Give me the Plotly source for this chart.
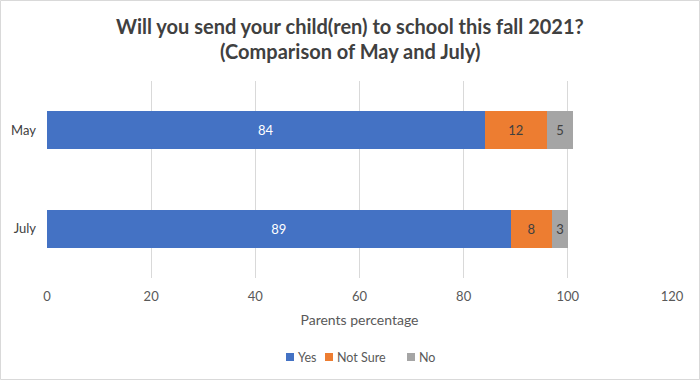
import plotly.graph_objects as go

categories = ["May", "July"]
yes_vals = [84, 89]
notsure_vals = [12, 8]
no_vals = [5, 3]
series_names = ["Yes", "Not Sure", "No"]
colors = ["#4472C4", "#ED7D31", "#A5A5A5"]
text_colors = ["#FFFFFF", "#404040", "#404040"]
x_ticks = [0, 20, 40, 60, 80, 100, 120]
title_lines = ["Will you send your child(ren) to school this fall 2021?", "(Comparison of May and July)"]

W, H = 700, 380
ML, MR, MT, MB = 47, 28, 81, 102
pw = W - ML - MR
ph = H - MT - MB
FONT = "Lato, Open Sans, sans-serif"

fig = go.Figure()
for name, vals, c, tc in zip(series_names, [yes_vals, notsure_vals, no_vals], colors, text_colors):
    fig.add_trace(go.Bar(
        y=categories, x=vals, name=name, orientation="h",
        marker=dict(color=c, line=dict(width=0)),
        text=[str(v) for v in vals], textposition="inside", insidetextanchor="middle",
        textfont=dict(color=tc, size=13, family=FONT),
        constraintext="none", showlegend=False,
    ))

fig.update_layout(
    width=W, height=H,
    barmode="stack", bargap=0.61,
    paper_bgcolor="white", plot_bgcolor="white",
    margin=dict(l=ML, r=MR, t=MT, b=MB, autoexpand=False),
    font=dict(family=FONT, color="#595959", size=12),
    showlegend=False,
    xaxis=dict(
        range=[0, 120], tickvals=x_ticks, showgrid=True, gridcolor="#D9D9D9", gridwidth=1,
        zeroline=False, showline=False, ticks="", tickfont=dict(size=13, color="#595959"),
        ticklabelstandoff=9, automargin=False,
        title=dict(text="Parents percentage", font=dict(size=14, color="#595959"), standoff=12),
    ),
    yaxis=dict(
        categoryorder="array", categoryarray=categories[::-1], showgrid=False, zeroline=False,
        showline=False, ticks="", ticklabelstandoff=10, tickfont=dict(size=13, color="#404040"),
        automargin=False,
    ),
    uniformtext=dict(mode=False),
)

def px_x(x):
    return (x - ML) / pw

def px_y(y):
    return 1 - (y - MT) / ph

# title
for i, line in enumerate(title_lines):
    fig.add_annotation(text=line, xref="paper", yref="paper", x=px_x(350), y=px_y(26 + i * 25),
                       xanchor="center", yanchor="middle", showarrow=False,
                       font=dict(size=20, color="#404040", family=FONT, weight="bold"))

# legend (built from series names and colours)
legend_x = [290, 329, 411]
for name, c, lx in zip(series_names, colors, legend_x):
    fig.add_shape(type="rect", xref="paper", yref="paper",
                  x0=px_x(lx - 4), x1=px_x(lx + 4), y0=px_y(361), y1=px_y(353),
                  fillcolor=c, line=dict(width=0))
    fig.add_annotation(text=name, xref="paper", yref="paper", x=px_x(lx + 6), y=px_y(357),
                       xanchor="left", yanchor="middle", showarrow=False,
                       font=dict(size=12.5, color="#595959", family=FONT))

fig.add_shape(type="rect", xref="paper", yref="paper",
              x0=px_x(0.5), x1=px_x(W - 0.5), y0=px_y(H - 0.5), y1=px_y(0.5),
              line=dict(color="#D9D9D9", width=1), layer="below")

fig.write_html("out.html", config={"displayModeBar": False},
               post_script="document.body.style.margin='0';document.body.style.padding='0';")
